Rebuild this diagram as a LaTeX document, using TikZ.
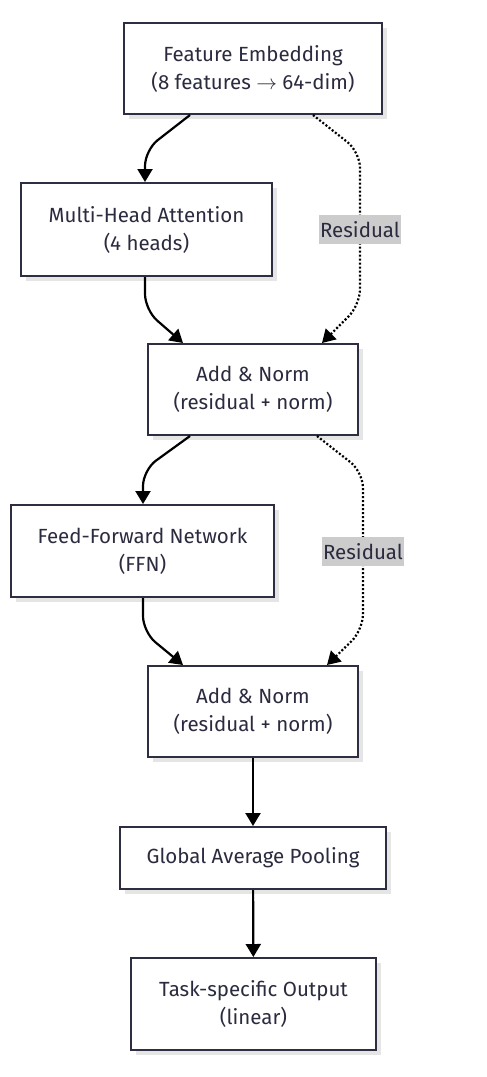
\documentclass[tikz,border=0pt]{standalone}
\usepackage{fontspec}
\setmainfont{Fira Sans}
\usetikzlibrary{arrows.meta,shadows,calc}
\definecolor{ink}{HTML}{2B2B3F}
\definecolor{edge}{HTML}{2E2E42}
\definecolor{lblbg}{HTML}{CCCCCC}
\begin{document}
\begin{tikzpicture}[x=1pt,y=-1pt,
  box/.style={draw=edge, line width=2pt, fill=white, inner sep=0pt, align=center,
    text=ink, font=\fontsize{20.5}{28}\selectfont,
    drop shadow={shadow xshift=5pt, shadow yshift=-5pt, fill=black!10, opacity=1}},
  flow/.style={line width=2.2pt, draw=black, rounded corners=16pt, -{Triangle[width=15pt,length=13pt]}},
  skip/.style={line width=2.2pt, draw=black, dash pattern=on 2pt off 2pt, rounded corners=16pt, -{Triangle[width=15pt,length=13pt]}},
  lbl/.style={fill=lblbg, text=ink, inner sep=0pt, minimum width=82pt, minimum height=29pt, font=\fontsize{20.5}{24}\selectfont}]
\useasboundingbox (0,0) rectangle (487,1077);
\node[box, minimum width=258pt, minimum height=91pt] (b1) at (253,68.5) {Feature Embedding\\(8 features $\rightarrow$ 64-dim)};
\node[box, minimum width=251pt, minimum height=93pt] (b2) at (146.5,229.5) {Multi-Head Attention\\(4 heads)};
\node[box, minimum width=210pt, minimum height=91pt] (b3) at (253,389.5) {Add \& Norm\\(residual + norm)};
\node[box, minimum width=263pt, minimum height=92pt] (b4) at (142.5,551) {Feed-Forward Network\\(FFN)};
\node[box, minimum width=210pt, minimum height=91pt] (b5) at (253,711.5) {Add \& Norm\\(residual + norm)};
\node[box, minimum width=266pt, minimum height=62pt] (b6) at (253,858) {Global Average Pooling};
\node[box, minimum width=245pt, minimum height=92pt] (b7) at (253.5,1004) {Task-specific Output\\(linear)};
% block 1
\draw[flow] ($(b1.south)+(-63,0)$) -- (145,150) -- (b2.north -| 145,0);
\draw[flow] (b2.south -| 145,0) -- (145,310) -- ($(b3.north)+(-70,0)$);
\draw[skip] ($(b1.south)+(60,0)$) -- (360,152) -- (360,305) -- ($(b3.north)+(69,0)$);
\node[lbl] (r1) at (360,229.5) {Residual};
% block 2
\draw[flow] ($(b3.south)+(-63,0)$) -- (143,470) -- (b4.north -| 143,0);
\draw[flow] (b4.south -| 143,0) -- (143,632) -- ($(b5.north)+(-70,0)$);
\draw[skip] ($(b3.south)+(64,0)$) -- (363,472) -- (363,630) -- ($(b5.north)+(74,0)$);
\node[lbl] (r2) at (363,551.5) {Residual};
% tail
\draw[flow] (b5) -- (b6);
\draw[flow] (b6) -- (b7);
\end{tikzpicture}
\end{document}
